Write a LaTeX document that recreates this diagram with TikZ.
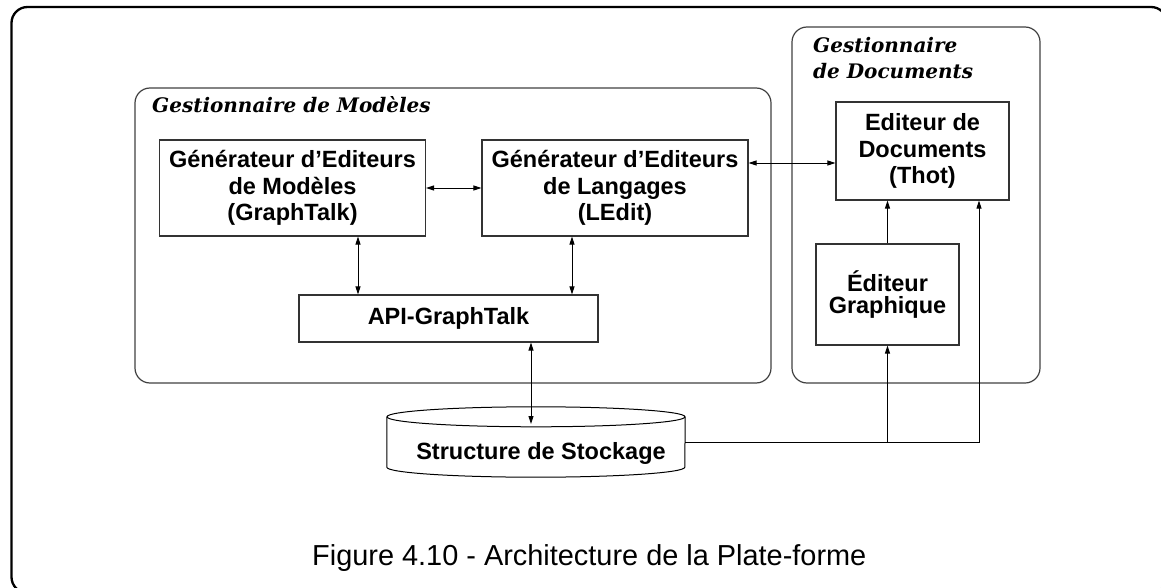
\documentclass[tikz,border=0pt]{standalone}
\usepackage{fontspec}
\setmainfont{Liberation Sans}
\newfontfamily\serifbi{DejaVu Serif}
\usetikzlibrary{arrows.meta}
\tikzset{
  box/.style={draw=black!80, line width=1.2pt, align=center, inner sep=0pt,
    font=\bfseries\fontsize{23.5}{26.3}\selectfont},
  group/.style={draw=black!75, line width=1.2pt, rounded corners=15pt},
  glabel/.style={anchor=base west, inner sep=0pt, font=\serifbi\bfseries\itshape\fontsize{20}{22}\selectfont},
  arr/.style={-{Triangle[length=8pt,width=5pt]}, line width=0.9pt},
  dbl/.style={{Triangle[length=8pt,width=5pt]}-{Triangle[length=8pt,width=5pt]}, line width=0.9pt},
}
\begin{document}
\begin{tikzpicture}[x=1pt,y=-1pt]
\useasboundingbox (0,0) rectangle (1161,588);
\begin{scope}
\clip (0,0) rectangle (1161,588);
\draw[line width=2.3pt, rounded corners=16pt] (11.5,7) rectangle (1167,593);
\end{scope}

% groups
\draw[group] (135,88) rectangle (771,383);
\draw[group] (792,27) rectangle (1040,383);
\node[glabel] (gml) at (152,113) {Gestionnaire de Modèles};
\node[glabel] (gdl1) at (813,53) {Gestionnaire};
\node[glabel] (gdl2) at (813,79) {de Documents};

% boxes
\node[box, minimum width=266pt, minimum height=96pt] (gem) at (292.5,188)
  {Générateur d’Editeurs\\de Modèles\\(GraphTalk)};
\node[box, minimum width=266pt, minimum height=96pt] (gel) at (615,188)
  {Générateur d’Editeurs\\de Langages\\(LEdit)};
\node[box, minimum width=299pt, minimum height=47pt] (api) at (448.5,318.5)
  {API-GraphTalk};
\node[box, minimum width=173pt, minimum height=98pt] (eddoc) at (922.5,151)
  {Editeur de\\Documents\\(Thot)};
\node[box, minimum width=143pt, minimum height=101pt,
  font=\bfseries\fontsize{23.5}{22}\selectfont] (edgr) at (887.5,294.5)
  {Éditeur\\Graphique};

% storage cylinder
\node[minimum width=298pt, minimum height=50pt, inner sep=0pt] (stock) at (536,442) {};
\node[anchor=base, inner sep=0pt, font=\bfseries\fontsize{23.5}{26.3}\selectfont]
  (stocktxt) at (541,459) {Structure de Stockage};
\draw[line width=1pt] (stock.north) ellipse [x radius=149pt, y radius=10pt];
\draw[line width=1pt] (stock.north west) -- (stock.south west)
  arc[start angle=180, end angle=360, x radius=149pt, y radius=10pt]
  -- (stock.north east);

% connectors
\coordinate (x1) at (358,0);
\coordinate (x2) at (572,0);
\coordinate (x3) at (531,0);
\coordinate (y1) at (0,163);
\coordinate (stocktop) at (531,424);
\coordinate (corner) at (979,442);
\draw[dbl] (gem.east) -- (gel.west);
\draw[dbl] (gem.south -| x1) -- (api.north -| x1);
\draw[dbl] (gel.south -| x2) -- (api.north -| x2);
\draw[dbl] (gel.east |- y1) -- (eddoc.west |- y1);
\draw[dbl] (api.south -| x3) -- (stocktop);
\draw[arr] (edgr.north) -- (edgr.north |- eddoc.south);
\draw[arr] (stock.east) -- (corner) -- (corner |- eddoc.south);
\draw[arr] (edgr.south |- corner) -- (edgr.south);

% caption
\node[anchor=base west, inner sep=0pt, font=\fontsize{28.9}{32}\selectfont]
  (cap) at (312,565) {Figure 4.10 - Architecture de la Plate-forme};
\end{tikzpicture}
\end{document}
